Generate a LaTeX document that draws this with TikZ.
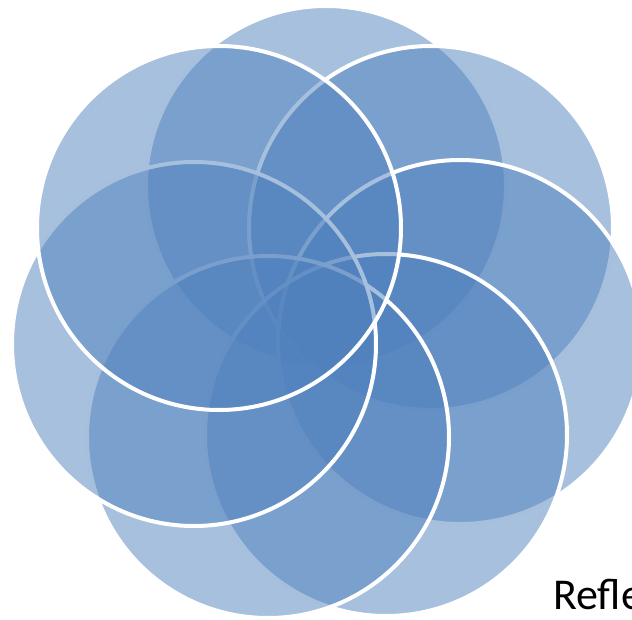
\documentclass[tikz,border=0pt]{standalone}
\usepackage{fontspec}
\setmainfont{Carlito}
\definecolor{petalblue}{HTML}{4F81BD}
\begin{document}
\begin{tikzpicture}[x=1pt,y=-1pt,
  petal/.style={circle, draw=white, line width=4pt, fill=petalblue,
    fill opacity=0.5, draw opacity=1, inner sep=0pt, minimum size=#1},
  label/.style={font=\fontsize{44}{52}\selectfont, anchor=base west, inner sep=0pt, text=black}]
\useasboundingbox (0,0) rectangle (632,620);
\clip (0,0) rectangle (632,620);
\node[petal=360pt] (p1) at (326,186) {};
\node[petal=364pt] (p2) at (431,228) {};
\node[petal=364pt] (p3) at (460,342) {};
\node[petal=362pt] (p4) at (386,435) {};
\node[petal=362pt] (p5) at (268,437) {};
\node[petal=364pt] (p6) at (194,344) {};
\node[petal=364pt] (p7) at (219,228) {};
\node[label] (t) at (553,609) {Refle};
\end{tikzpicture}
\end{document}
